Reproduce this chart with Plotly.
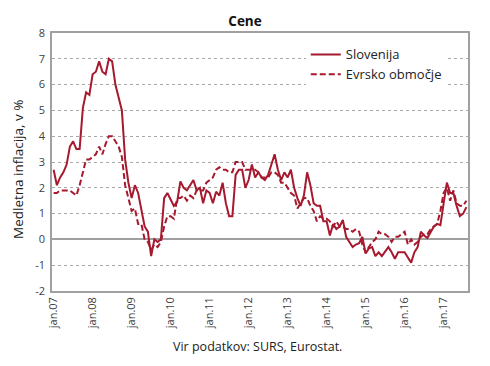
import plotly.graph_objects as go

years = ["07", "08", "09", "10", "11", "12", "13", "14", "15", "16", "17"]
tick_labels = ["jan." + y for y in years]
y_ticks = [-2, -1, 0, 1, 2, 3, 4, 5, 6, 7, 8]
y_tick_labels = ["-2", "-1", "0", "1", "2", "3", "4", "5", "6", "7", "8"]

slovenija = [
    2.7, 2.1, 2.4, 2.6, 2.9, 3.6, 3.8, 3.5, 3.5, 5.1, 5.7, 5.6,
    6.4, 6.5, 6.9, 6.5, 6.4, 7.0, 6.9, 6.0, 5.5, 5.0, 3.1, 2.2,
    1.6, 2.1, 1.8, 1.1, 0.5, 0.3, -0.65, 0.0, -0.1, 0.0, 1.6, 1.8,
    1.55, 1.3, 1.45, 2.25, 2.0, 1.9, 2.1, 2.3, 1.9, 2.0, 1.4, 1.9,
    1.8, 1.4, 1.85, 1.7, 2.2, 1.4, 0.9, 0.9, 2.5, 2.7, 2.7, 2.0,
    2.3, 2.9, 2.4, 2.6, 2.4, 2.3, 2.5, 2.9, 3.3, 2.7, 2.3, 2.6,
    2.4, 2.7, 2.0, 1.6, 1.3, 1.7, 2.6, 2.1, 1.4, 1.3, 1.3, 0.7,
    0.7, 0.15, 0.6, 0.4, 0.5, 0.75, 0.1, -0.1, -0.3, -0.2, -0.15, 0.1,
    -0.55, -0.35, -0.3, -0.65, -0.5, -0.65, -0.45, -0.3, -0.5, -0.75, -0.5, -0.5,
    -0.5, -0.7, -0.9, -0.5, -0.3, 0.3, 0.15, 0.05, 0.3, 0.5, 0.6, 0.55,
    1.4, 2.2, 1.8, 1.8, 1.3, 0.9, 1.0, 1.25,
]

evrsko = [
    1.8, 1.8, 1.9, 1.9, 1.9, 1.9, 1.8, 1.7, 2.1, 2.6, 3.1, 3.1,
    3.2, 3.3, 3.6, 3.3, 3.7, 4.0, 4.0, 3.8, 3.6, 3.2, 2.1, 1.6,
    1.1, 1.2, 0.6, 0.6, 0.0, -0.1, -0.4, -0.2, -0.3, -0.1, 0.5, 0.9,
    0.9, 0.8, 1.6, 1.6, 1.7, 1.5, 1.7, 1.6, 1.9, 1.9, 1.9, 2.2,
    2.3, 2.4, 2.7, 2.8, 2.7, 2.7, 2.6, 2.6, 3.0, 3.0, 3.0, 2.7,
    2.7, 2.7, 2.7, 2.6, 2.4, 2.4, 2.4, 2.6, 2.6, 2.5, 2.2, 2.2,
    2.0, 1.8, 1.7, 1.2, 1.4, 1.6, 1.6, 1.3, 1.1, 0.7, 0.9, 0.8,
    0.8, 0.7, 0.5, 0.7, 0.5, 0.5, 0.4, 0.4, 0.3, 0.4, 0.3, -0.2,
    -0.5, -0.3, -0.1, 0.0, 0.3, 0.2, 0.2, 0.1, -0.1, 0.1, 0.1, 0.2,
    0.3, -0.2, 0.0, -0.2, -0.1, 0.1, 0.2, 0.2, 0.4, 0.5, 0.6, 1.1,
    1.8, 2.0, 1.5, 1.9, 1.4, 1.3, 1.3, 1.5,
]

months = list(range(len(slovenija)))
tick_positions = [12 * k for k in range(len(tick_labels))]

RED = "#A6192E"
GREY = "#A0A0A0"
FONT = "Open Sans"

# The page body has an 8px default margin; size the figure to fit the window.
W, H = 474, 350

fig = go.Figure()
fig.add_trace(go.Scatter(x=months, y=slovenija, mode="lines", name="Slovenija",
                         line=dict(color=RED, width=2)))
fig.add_trace(go.Scatter(x=months, y=evrsko, mode="lines", name="Evrsko območje",
                         line=dict(color=RED, width=2, dash="6px,3px")))

fig.update_layout(
    template="none",
    width=W, height=H,
    margin=dict(l=44, r=14, t=25, b=67, autoexpand=False),
    paper_bgcolor="white", plot_bgcolor="white",
    font=dict(family=FONT, color="#333333"),
    title=dict(text="<b>Cene</b>", x=0.5, xref="container", xanchor="center",
               y=1 - 13 / H, yref="container", yanchor="middle",
               font=dict(size=13.5, color="#111111", family=FONT)),
    showlegend=True,
    legend=dict(x=0.61, y=0.975, xanchor="left", yanchor="top",
                bgcolor="white", borderwidth=0,
                font=dict(size=13, color="#222222", family=FONT),
                tracegroupgap=0),
    xaxis=dict(range=[-0.5, len(months) - 0.5], tickvals=tick_positions,
               ticktext=tick_labels, tickangle=-90, showgrid=False,
               tickfont=dict(size=11, color="#404040"),
               showline=True, mirror=True, linecolor=GREY, linewidth=1.5,
               zeroline=False, ticks="", automargin=False),
    yaxis=dict(range=[-2, 8], tickvals=y_ticks, ticktext=y_tick_labels,
               showgrid=True, gridcolor="#A8A8A8", griddash="dot", gridwidth=1,
               zeroline=True, zerolinecolor=GREY, zerolinewidth=1.5,
               tickfont=dict(size=11, color="#404040"), ticklabelstandoff=3,
               showline=True, mirror=True, linecolor=GREY, linewidth=1.5,
               ticks="", automargin=False),
)

fig.add_annotation(text="Medletna inflacija, v %", xref="paper", yref="paper",
                   x=(18 - 52) / 416, y=(291 - 170) / 258, textangle=-90,
                   xanchor="center", yanchor="middle", showarrow=False,
                   font=dict(size=13.5, color="#222222", family=FONT))
fig.add_annotation(text="Vir podatkov: SURS, Eurostat.", xref="paper", yref="paper",
                   x=(257 - 52) / 416, y=(291 - 346) / 258, xanchor="center",
                   yanchor="middle", showarrow=False,
                   font=dict(size=12.5, color="#222222", family=FONT))

fig.write_html("out.html")
